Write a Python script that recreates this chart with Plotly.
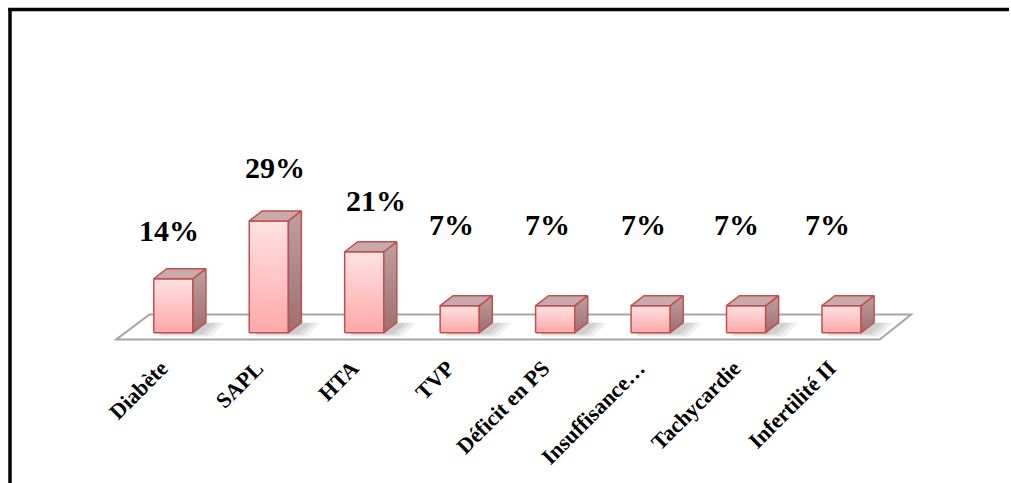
import plotly.graph_objects as go

# --- data -------------------------------------------------------------
categories = ["Diabète", "SAPL", "HTA", "TVP", "Déficit en PS",
              "Insuffisance…", "Tachycardie", "Infertilité II"]
values = [14, 29, 21, 7, 7, 7, 7, 7]
value_labels = ["14%", "29%", "21%", "7%", "7%", "7%", "7%", "7%"]

# --- layout geometry --------------------------------------------------
W, H = 1011, 483
ML, MR, MT, MB = 97, 74, 140, 133
X_RANGE = [-0.8, 8.0]
Y_RANGE = [-4.5, 50]

BAR_W = 0.41      # width of the front face (category units)
DEPTH_X = 0.136   # oblique depth, horizontal part (category units)
DEPTH_Y = 2.6     # oblique depth, vertical part (value units)

FLOOR_FRONT_Y, FLOOR_BACK_Y = -1.8, 4.7
FLOOR_FRONT_X = (-0.60, 7.40)
FLOOR_BACK_X = (-0.25, 7.73)

EDGE = "#C0504D"
FRONT_SCALE = [[0, "#FFA8A8"], [1, "#FFE2E2"]]
SIDE_SCALE = [[0, "#9E6E6E"], [1, "#BFA0A0"]]
TOP_COLOR = "#C9AAAA"
FRAME_COLOR = "#050505"

# per-label nudges in pixels (x, y above the bar top)
LABEL_DX = [-4, 6, 12, -8, -8, -7, -10, -14]
LABEL_DY = [48, 53, 51, 81, 81, 81, 81, 81]

fig = go.Figure()


def poly(xs, ys, **kw):
    fig.add_trace(go.Scatter(
        x=xs + [xs[0]], y=ys + [ys[0]], mode="lines", fill="toself",
        line=dict(color=EDGE, width=1.5), hoverinfo="skip",
        showlegend=False, **kw))


for i, v in enumerate(values):
    xl, xr = i - BAR_W / 2, i + BAR_W / 2
    # soft shadow on the floor, a few stacked translucent layers
    for k, a in enumerate([0.10, 0.12, 0.14]):
        off = 0.20 - 0.05 * k
        fig.add_trace(go.Scatter(
            x=[xl + 0.05, xr + off, xr + off + DEPTH_X, xl + 0.05 + DEPTH_X,
               xl + 0.05],
            y=[-0.9 + 0.25 * k, -0.9 + 0.25 * k, DEPTH_Y, DEPTH_Y,
               -0.9 + 0.25 * k],
            mode="lines", fill="toself", line=dict(width=0),
            fillcolor=f"rgba(110,110,110,{a})", hoverinfo="skip",
            showlegend=False))
    # front face
    poly([xl, xl, xr, xr], [0, v, v, 0],
         fillgradient=dict(type="vertical", colorscale=FRONT_SCALE))
    # right side face
    poly([xr, xr, xr + DEPTH_X, xr + DEPTH_X],
         [0, v, v + DEPTH_Y, DEPTH_Y],
         fillgradient=dict(type="vertical", colorscale=SIDE_SCALE))
    # top face
    poly([xl, xl + DEPTH_X, xr + DEPTH_X, xr],
         [v, v + DEPTH_Y, v + DEPTH_Y, v], fillcolor=TOP_COLOR)

# value labels
for i, (v, lab) in enumerate(zip(values, value_labels)):
    fig.add_annotation(
        x=i, y=v, text=lab, showarrow=False, xshift=LABEL_DX[i],
        yshift=LABEL_DY[i], yanchor="middle", xanchor="center",
        font=dict(family="Liberation Serif", size=30, color="black",
                  weight="bold"))

# floor plane
fig.add_shape(
    type="path", xref="x", yref="y", layer="below",
    path=(f"M {FLOOR_FRONT_X[0]},{FLOOR_FRONT_Y} "
          f"L {FLOOR_BACK_X[0]},{FLOOR_BACK_Y} "
          f"L {FLOOR_BACK_X[1]},{FLOOR_BACK_Y} "
          f"L {FLOOR_FRONT_X[1]},{FLOOR_FRONT_Y} Z"),
    line=dict(color="#A6A6A6", width=2), fillcolor="white")

# outer frame: only its top and left edges fall inside the page
pw, ph = W - ML - MR, H - MT - MB


def px_to_paper_x(px):
    return (px - ML) / pw


def px_to_paper_y(py):
    return (H - MB - py) / ph


fig.add_shape(type="line", xref="paper", yref="paper", layer="below",
              line=dict(color=FRAME_COLOR, width=3.5),
              x0=px_to_paper_x(8.25), x1=px_to_paper_x(W - 2),
              y0=px_to_paper_y(9.5), y1=px_to_paper_y(9.5))
fig.add_shape(type="line", xref="paper", yref="paper", layer="below",
              line=dict(color=FRAME_COLOR, width=3.5),
              x0=px_to_paper_x(10), x1=px_to_paper_x(10),
              y0=px_to_paper_y(8), y1=px_to_paper_y(H))

fig.update_layout(
    width=W, height=H,
    margin=dict(l=ML, r=MR, t=MT, b=MB),
    paper_bgcolor="white", plot_bgcolor="white",
    showlegend=False,
    xaxis=dict(range=X_RANGE, tickvals=list(range(len(categories))),
               ticktext=categories, tickangle=-45, showgrid=False,
               zeroline=False, showline=False, ticks="",
               ticklabelshift=-12,
               tickfont=dict(family="Liberation Serif", size=22,
                             color="black", weight="bold")),
    yaxis=dict(range=Y_RANGE, visible=False, showgrid=False,
               zeroline=False),
)

fig.write_html("out.html", config={"displayModeBar": False})
